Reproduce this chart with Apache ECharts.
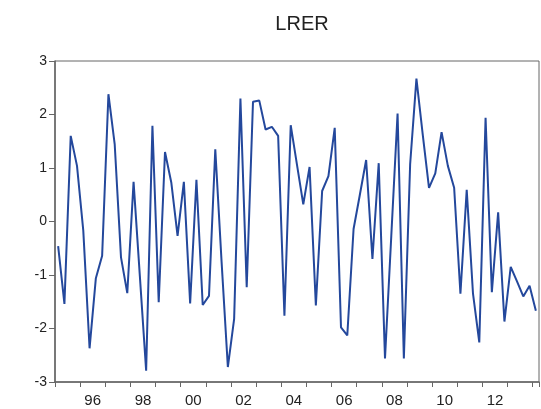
<!DOCTYPE html>
<html>
<head>
<meta charset="utf-8">
<script src="https://cdn.jsdelivr.net/npm/echarts@6/dist/echarts.min.js"></script>
<style>
  html, body { margin: 0; padding: 0; background: #fff; }
  #main { width: 541px; height: 409px; }
</style>
</head>
<body>
<div id="main"></div>
<script>
// quarterly series, 1995Q1 .. 2014Q1
var startYear = 1995
var lrer = [
  -0.46, -1.54, 1.60, 1.04, -0.17, -2.37, -1.06, -0.64,
  2.38, 1.44, -0.67, -1.34, 0.74, -1.02, -2.79, 1.79,
  -1.51, 1.30, 0.73, -0.27, 0.74, -1.53, 0.78, -1.56,
  -1.39, 1.35, -0.75, -2.72, -1.82, 2.30, -1.23, 2.24,
  2.26, 1.72, 1.77, 1.60, -1.76, 1.80, 1.06, 0.32,
  1.02, -1.57, 0.57, 0.85, 1.75, -1.98, -2.13, -0.14,
  0.50, 1.15, -0.70, 1.09, -2.56, -0.27, 2.02, -2.56,
  1.07, 2.67, 1.63, 0.63, 0.90, 1.67, 1.04, 0.63,
  -1.35, 0.59, -1.35, -2.26, 1.94, -1.32, 0.17, -1.87,
  -0.85, -1.12, -1.40, -1.20, -1.67
]
var yearLabels = ['96', '98', '00', '02', '04', '06', '08', '10', '12']
var labelYears = [1996, 1998, 2000, 2002, 2004, 2006, 2008, 2010, 2012]

var points = []
for (var i = 0; i < lrer.length; i++) {
  // each observation sits in the middle of its quarter slot
  points.push([startYear + (i + 0.5) / 4, lrer[i]])
}
var xMax = startYear + lrer.length / 4

var myChart = echarts.init(document.getElementById('main'))
var font = 'Liberation Sans, Arial, sans-serif'
var option = {
  animation: false,
  title: {
    text: 'LRER',
    left: 297,
    textAlign: 'center',
    top: 9,
    textStyle: { fontFamily: font, fontSize: 20, fontWeight: 'normal', color: '#222' }
  },
  grid: { left: 55, right: 2, top: 61, bottom: 27, show: true, borderColor: '#666', borderWidth: 1 },
  xAxis: [
    {
      type: 'value',
      min: startYear,
      max: xMax,
      interval: 1,
      axisLine: { onZero: false, lineStyle: { color: '#666', width: 1.5 } },
      axisTick: { length: 5, lineStyle: { color: '#666' } },
      axisLabel: { show: false },
      splitLine: { show: false }
    },
    {
      type: 'value',
      position: 'bottom',
      min: startYear,
      max: xMax,
      interval: 0.5,
      axisLine: { show: false, onZero: false },
      axisTick: { show: false },
      splitLine: { show: false },
      axisLabel: {
        margin: 11,
        showMinLabel: true,
        showMaxLabel: false,
        fontFamily: font,
        fontSize: 15,
        color: '#222',
        formatter: function (v) {
          for (var k = 0; k < labelYears.length; k++) {
            if (Math.abs(v - (labelYears[k] + 0.5)) < 0.01) return yearLabels[k]
          }
          return ''
        }
      }
    }
  ],
  yAxis: {
    type: 'value',
    min: -3,
    max: 3,
    interval: 1,
    axisLine: { show: true, onZero: false, lineStyle: { color: '#666', width: 1.5 } },
    axisTick: { show: true, length: 6, lineStyle: { color: '#666' } },
    axisLabel: { margin: 8, fontFamily: font, fontSize: 14, color: '#222' },
    splitLine: { show: false }
  },
  series: [
    {
      name: 'LRER',
      type: 'line',
      xAxisIndex: 0,
      data: points,
      showSymbol: false,
      lineStyle: { color: '#24489c', width: 2 }
    }
  ]
}
myChart.setOption(option)
</script>
</body>
</html>
